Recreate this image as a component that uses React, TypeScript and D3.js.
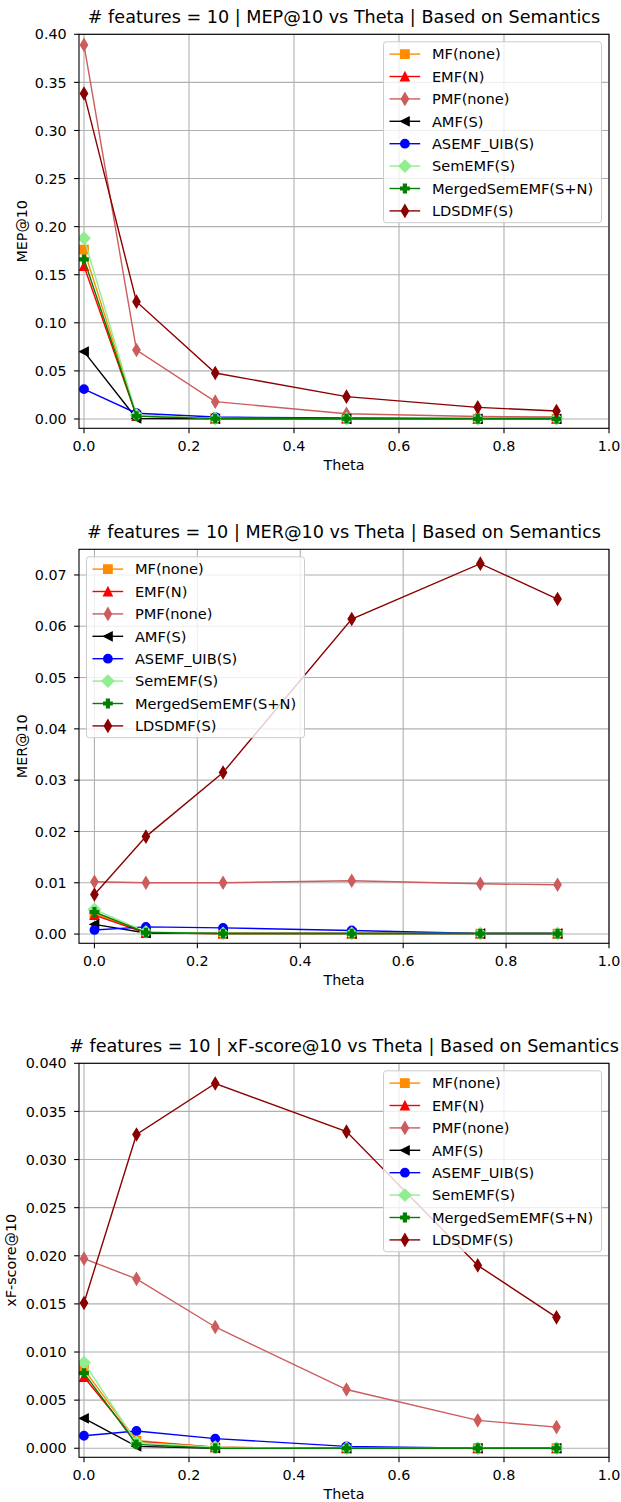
import * as d3 from "d3";

// Chart data.
const thetas = [0, 0.1, 0.25, 0.5, 0.75, 0.9];
const seriesNames = ["MF(none)", "EMF(N)", "PMF(none)", "AMF(S)", "ASEMF_UIB(S)", "SemEMF(S)", "MergedSemEMF(S+N)", "LDSDMF(S)"];
const seriesColors = ["#ff8c00", "#ff0000", "#cd5c5c", "#000000", "#0000ff", "#90ee90", "#008000", "#8b0000"];
const seriesMarkers = ["s", "^", "d", "<", "o", "D", "P", "d"];

const xTicks = [0, 0.2, 0.4, 0.6, 0.8, 1.0];
const mepTicks = [0, 0.05, 0.1, 0.15, 0.2, 0.25, 0.3, 0.35, 0.4];
const merTicks = [0, 0.01, 0.02, 0.03, 0.04, 0.05, 0.06, 0.07];
const xfTicks = [0, 0.005, 0.01, 0.015, 0.02, 0.025, 0.03, 0.035, 0.04];

// rows follow seriesNames
const mepValues = [
  [0.176, 0.004, 0.0005, 0.0003, 0.0002, 0.0002],
  [0.159, 0.003, 0.0004, 0.0003, 0.0002, 0.0002],
  [0.389, 0.0717, 0.018, 0.0055, 0.0025, 0.002],
  [0.07, 0.0005, 0.0002, 0.0001, 0.0001, 0.0001],
  [0.031, 0.006, 0.002, 0.001, 0.0006, 0.0005],
  [0.188, 0.004, 0.0005, 0.0003, 0.0002, 0.0002],
  [0.166, 0.003, 0.0004, 0.0003, 0.0002, 0.0002],
  [0.3385, 0.122, 0.0478, 0.0232, 0.0121, 0.0083],
];

const merValues = [
  [0.004, 0.0002, 0.0001, 0.0001, 0.0001, 0.0001],
  [0.0037, 0.0002, 0.0001, 0.0001, 0.0001, 0.0001],
  [0.0102, 0.01, 0.01, 0.0104, 0.0098, 0.0096],
  [0.0019, 0.0002, 0.0001, 0.0001, 0.0001, 0.0001],
  [0.0008, 0.0014, 0.0012, 0.0007, 0.0001, 0.0001],
  [0.0048, 0.0004, 0.0001, 0.0001, 0.0001, 0.0001],
  [0.0043, 0.0003, 0.0001, 0.0001, 0.0001, 0.0001],
  [0.0077, 0.019, 0.0315, 0.0614, 0.0722, 0.0653],
];

const xfValues = [
  [0.0082, 0.0008, 0.0001, 0, 0, 0],
  [0.0074, 0.0007, 0.0001, 0, 0, 0],
  [0.0197, 0.0176, 0.0126, 0.0061, 0.0029, 0.0022],
  [0.0031, 0.0002, 0, 0, 0, 0],
  [0.0013, 0.0018, 0.001, 0.0002, 0, 0],
  [0.0089, 0.0006, 0.0001, 0, 0, 0],
  [0.0078, 0.0004, 0, 0, 0, 0],
  [0.0151, 0.0326, 0.0379, 0.0329, 0.019, 0.0136],
];

const font = "DejaVu Sans, sans-serif";
const ms = 8.4; // marker size in px
const marginLeft = 79;
const marginRight = 609;
const plotHeight = 394;

// path for a matplotlib-like marker centred on 0,0
function markerPath(m: string): string {
  const h = ms / 2;
  if (m === "s") return `M${-h},${-h}H${h}V${h}H${-h}Z`;
  if (m === "^") return `M0,${-h}L${h},${h}L${-h},${h}Z`;
  if (m === "<") return `M${-h},0L${h},${-h}L${h},${h}Z`;
  if (m === "o") return d3.arc()({ innerRadius: 0, outerRadius: h, startAngle: 0, endAngle: 2 * Math.PI }) as string;
  if (m === "D" || m === "d") {
    const v = ms * 0.7071;
    const w = m === "d" ? v * 0.6 : v;
    return `M0,${-v}L${w},0L0,${v}L${-w},0Z`;
  }
  if (m === "P") {
    const a = ms / 6;
    return `M${-a},${-h}H${a}V${-a}H${h}V${a}H${a}V${h}H${-a}V${a}H${-h}V${-a}H${-a}Z`;
  }
  return "";
}

type ChartProps = {
  id: string;
  top: number;
  title: string;
  ylabel: string;
  ylabelX: number;
  values: number[][];
  yTicks: number[];
  yDomain: [number, number];
  xMin: number;
  fmt: string;
  legendSide: "left" | "right";
};

const Chart = ({ id, top, title, ylabel, ylabelX, values, yTicks, yDomain, xMin, fmt, legendSide }: ChartProps) => {
  const bottom = top + plotHeight;
  const x = d3.scaleLinear().domain([xMin, 1.0]).range([marginLeft, marginRight]);
  const y = d3.scaleLinear().domain(yDomain).range([bottom, top]);
  const line = d3
    .line<number>()
    .x((_, i) => x(thetas[i]))
    .y((d) => y(d));
  const yFormat = d3.format(fmt);

  // legend geometry
  const legW = 218;
  const rowH = 22.4;
  const legH = 12.3 * 2 + rowH * (seriesNames.length - 1) - 0.5;
  const legX = legendSide === "right" ? marginRight - 7.5 - legW : marginLeft + 7.5;
  const legY = top + 7.5;

  return (
    <g>
      <defs>
        <clipPath id={id}>
          <rect x={marginLeft} y={top} width={marginRight - marginLeft} height={plotHeight} />
        </clipPath>
      </defs>

      {/* grid */}
      {xTicks.map((t) => (
        <line key={"gx" + t} x1={x(t)} x2={x(t)} y1={top} y2={bottom} stroke="#b0b0b0" strokeWidth={1.1} />
      ))}
      {yTicks.map((t) => (
        <line key={"gy" + t} x1={marginLeft} x2={marginRight} y1={y(t)} y2={y(t)} stroke="#b0b0b0" strokeWidth={1.1} />
      ))}

      {/* series */}
      <g clipPath={`url(#${id})`}>
        {values.map((vals, s) => (
          <g key={seriesNames[s]}>
            <path d={line(vals) as string} fill="none" stroke={seriesColors[s]} strokeWidth={1.4} />
            {vals.map((v, i) => (
              <path
                key={i}
                d={markerPath(seriesMarkers[s])}
                transform={`translate(${x(thetas[i])},${y(v)})`}
                fill={seriesColors[s]}
                stroke={seriesColors[s]}
                strokeWidth={1.4}
              />
            ))}
          </g>
        ))}
      </g>

      {/* frame */}
      <rect x={marginLeft} y={top} width={marginRight - marginLeft} height={plotHeight} fill="none" stroke="#000" strokeWidth={1.1} />

      {/* x axis */}
      {xTicks.map((t) => (
        <g key={"tx" + t}>
          <line x1={x(t)} x2={x(t)} y1={bottom} y2={bottom + 4.9} stroke="#000" strokeWidth={1.1} />
          <text x={x(t)} y={bottom + 22.5} textAnchor="middle" fontSize={14.3} fontFamily={font} fill="#000">
            {t.toFixed(1)}
          </text>
        </g>
      ))}
      <text x={(marginLeft + marginRight) / 2} y={bottom + 42} textAnchor="middle" fontSize={14.3} fontFamily={font}>
        Theta
      </text>

      {/* y axis */}
      {yTicks.map((t) => (
        <g key={"ty" + t}>
          <line x1={marginLeft - 4.9} x2={marginLeft} y1={y(t)} y2={y(t)} stroke="#000" strokeWidth={1.1} />
          <text x={marginLeft - 12.3} y={y(t)} dy="0.36em" textAnchor="end" fontSize={14.3} fontFamily={font} fill="#000">
            {yFormat(t)}
          </text>
        </g>
      ))}
      <text
        transform={`translate(${ylabelX},${(top + bottom) / 2}) rotate(-90)`}
        dy="0.36em"
        textAnchor="middle"
        fontSize={14.3}
        fontFamily={font}
      >
        {ylabel}
      </text>

      {/* title */}
      <text x={(marginLeft + marginRight) / 2} y={top - 11} textAnchor="middle" fontSize={17.6} fontFamily={font}>
        {title}
      </text>

      {/* legend */}
      <rect x={legX} y={legY} width={legW} height={legH} rx={2.8} fill="#fff" fillOpacity={0.8} stroke="#cccccc" strokeWidth={1} />
      {seriesNames.map((name, s) => {
        const cy = legY + 12.3 + s * rowH;
        return (
          <g key={"lg" + name}>
            <line x1={legX + 6} x2={legX + 36.7} y1={cy} y2={cy} stroke={seriesColors[s]} strokeWidth={1.4} />
            <path
              d={markerPath(seriesMarkers[s])}
              transform={`translate(${legX + 21.4},${cy})`}
              fill={seriesColors[s]}
              stroke={seriesColors[s]}
              strokeWidth={1.4}
            />
            <text x={legX + 48.4} y={cy} dy="0.36em" fontSize={14.6} fontFamily={font}>
              {name}
            </text>
          </g>
        );
      })}
    </g>
  );
};

const App = () => {
  return (
    <svg width={621} height={1502} style={{ position: "absolute", left: 0, top: 0, background: "#fff" }}>
      <rect width={621} height={1502} fill="#fff" />
      <Chart
        id="clip-mep"
        top={34.3}
        title="# features = 10 | MEP@10 vs Theta | Based on Semantics"
        ylabel="MEP@10"
        ylabelX={22}
        values={mepValues}
        yTicks={mepTicks}
        yDomain={[-0.0097, 0.4]}
        xMin={-0.0095}
        fmt=".2f"
        legendSide="right"
      />
      <Chart
        id="clip-mer"
        top={549.3}
        title="# features = 10 | MER@10 vs Theta | Based on Semantics"
        ylabel="MER@10"
        ylabelX={22}
        values={merValues}
        yTicks={merTicks}
        yDomain={[-0.0018, 0.075]}
        xMin={-0.03}
        fmt=".2f"
        legendSide="left"
      />
      <Chart
        id="clip-xf"
        top={1063.3}
        title="# features = 10 | xF-score@10 vs Theta | Based on Semantics"
        ylabel="xF-score@10"
        ylabelX={11}
        values={xfValues}
        yTicks={xfTicks}
        yDomain={[-0.00094, 0.04]}
        xMin={-0.0095}
        fmt=".3f"
        legendSide="right"
      />
    </svg>
  );
};

export default App;
